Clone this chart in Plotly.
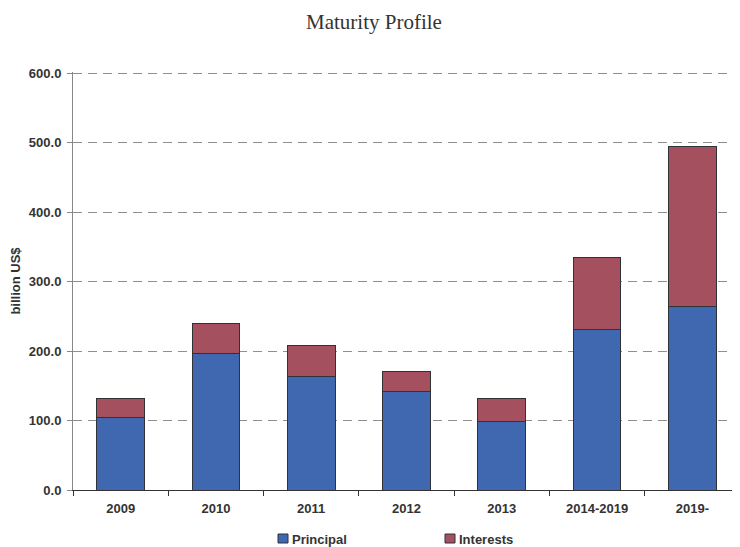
import plotly.graph_objects as go

categories = ['2009', '2010', '2011', '2012', '2013', '2014-2019', '2019-']
principal = [104, 197, 164, 142, 99, 231, 264]
interests = [28, 43, 44, 29, 32, 104, 231]

blue = '#3F68B1'
red = '#A5505F'
edge = '#2F3338'
txt = '#333333'

# the page body keeps an 8px margin, so the figure is made 8px smaller
W, H = 732, 539

fig = go.Figure()
fig.add_trace(go.Bar(x=categories, y=principal, name='Principal',
                     marker=dict(color=blue, line=dict(color=edge, width=1))))
fig.add_trace(go.Bar(x=categories, y=interests, name='Interests',
                     marker=dict(color=red, line=dict(color=edge, width=1))))

# legend drawn by hand (plotly's own legend pushes the bottom margin)
plot_w, plot_h = 667, 418
legend_items = [('Principal', blue, 278), ('Interests', red, 445)]
for name, col, px in legend_items:
    x0 = (px - 73) / plot_w
    x1 = (px + 10 - 73) / plot_w
    fig.add_shape(type='rect', xref='paper', yref='paper',
                  x0=x0, x1=x1, y0=(490 - 543) / plot_h, y1=(490 - 534) / plot_h,
                  fillcolor=col, line=dict(color=edge, width=1))
    fig.add_annotation(text=name, xref='paper', yref='paper', showarrow=False,
                       x=(px + 12 - 73) / plot_w, y=(490 - 539) / plot_h,
                       xanchor='left', yanchor='middle',
                       font=dict(size=13, color=txt, family='Liberation Sans, Arial', weight='bold'))

fig.update_layout(
    width=W, height=H,
    barmode='stack', bargap=0.5,
    paper_bgcolor='white', plot_bgcolor='white',
    margin=dict(l=65, r=0, t=64, b=57),
    font=dict(family='Liberation Sans, Arial', size=13, color=txt),
    title=dict(text='Maturity Profile', x=0.5, xref='container', xanchor='center',
               y=0.974, yref='container', yanchor='middle',
               font=dict(family='Liberation Serif, Times New Roman', size=21, color=txt)),
    showlegend=False,
)

fig.update_yaxes(range=[0, 601.5], dtick=100, tickformat='.1f', automargin=False,
                 showgrid=True, gridcolor='#958c8c', griddash='9px,6px', gridwidth=1,
                 showline=True, linecolor='#888888', linewidth=1,
                 ticks='outside', ticklen=5, tickcolor='#888888', ticklabelstandoff=3,
                 tickfont=dict(size=13, color=txt, family='Liberation Sans, Arial', weight='bold'),
                 title=dict(text='billion US$', standoff=6,
                            font=dict(size=13, color=txt, weight='bold')),
                 zeroline=False)
fig.update_xaxes(showline=True, linecolor='#333333', linewidth=1, automargin=False,
                 ticks='outside', tickson='boundaries', ticklen=5, tickcolor='#333333',
                 ticklabelstandoff=6,
                 tickfont=dict(size=13, color=txt, family='Liberation Sans, Arial', weight='bold'),
                 showgrid=False)

fig.write_html("out.html")
